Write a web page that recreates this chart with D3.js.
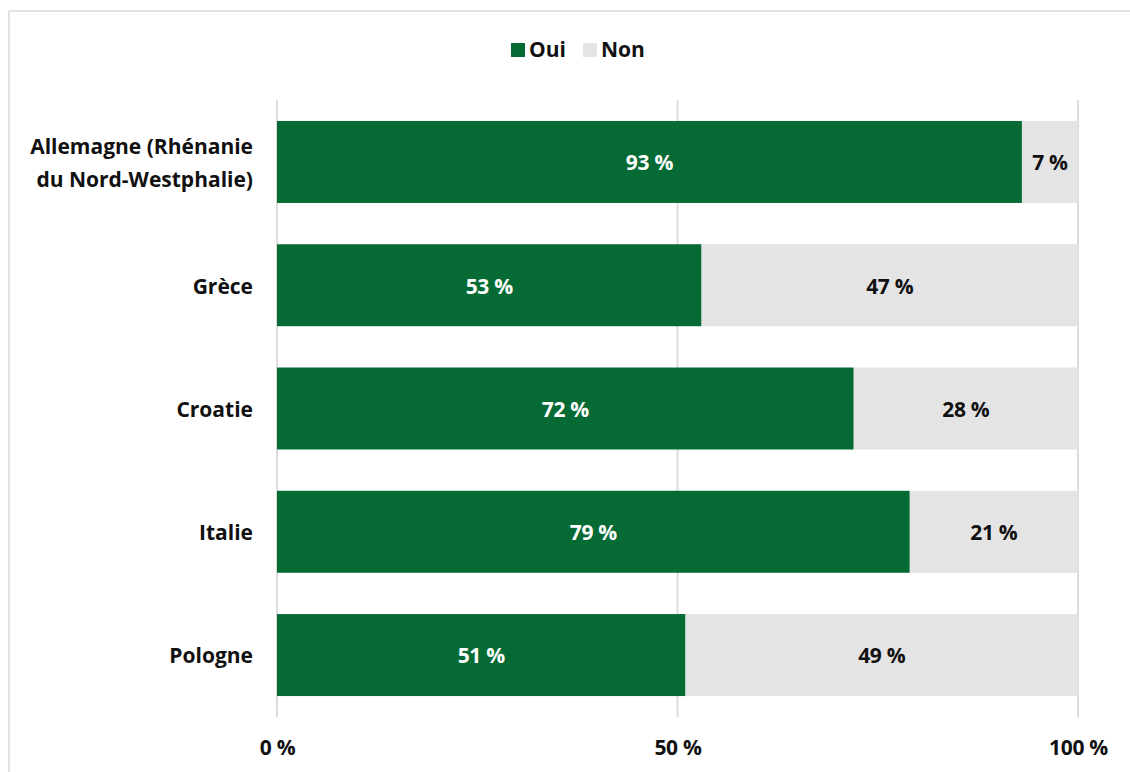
<!DOCTYPE html>
<html>
<head>
<meta charset="utf-8">
<script src="https://cdn.jsdelivr.net/npm/d3@7"></script>
<style>
  html, body { margin: 0; padding: 0; background: #fff; }
  svg text { font-family: "Open Sans", "Noto Sans", sans-serif; font-weight: 700; }
</style>
</head>
<body>
<svg id="chart" width="1130" height="772"></svg>
<script>
// Categories (top to bottom) and answer shares in percent
const countries = [
  ["Allemagne (Rhénanie", "du Nord-Westphalie)"],
  ["Grèce"],
  ["Croatie"],
  ["Italie"],
  ["Pologne"]
];
const oui = [93, 53, 72, 79, 51];
const non = [7, 47, 28, 21, 49];
const seriesNames = ["Oui", "Non"];
const tickValues = [0, 50, 100];

const colors = { Oui: "#066a35", Non: "#e4e4e4" };
const FS = 21;

const svg = d3.select("#chart");
const W = 1130, H = 772;
const margin = { top: 100, right: 52, bottom: 55, left: 277 };

// Outer frame (top and left edges visible)
svg.append("path")
  .attr("d", `M9,${H} V11 H${W}`)
  .attr("fill", "none")
  .attr("stroke", "#e2e2e2")
  .attr("stroke-width", 2);

const keys = countries.map((c, i) => i);
const x = d3.scaleLinear().domain([0, 100]).range([margin.left, W - margin.right]);
const y = d3.scaleBand().domain(keys).range([margin.top, H - margin.bottom]).paddingInner(0.335).paddingOuter(0.17);

// Vertical gridlines
svg.append("g")
  .selectAll("line")
  .data(tickValues)
  .join("line")
  .attr("x1", d => x(d)).attr("x2", d => x(d))
  .attr("y1", margin.top).attr("y2", H - margin.bottom)
  .attr("stroke", "#dcdcdc")
  .attr("stroke-width", 2);

// Stacked bars
const rows = keys.map(i => ({ i, Oui: oui[i], Non: non[i] }));
const stack = d3.stack().keys(seriesNames)(rows);

const layer = svg.append("g").selectAll("g")
  .data(stack)
  .join("g")
  .attr("fill", d => colors[d.key]);

layer.selectAll("rect")
  .data(d => d)
  .join("rect")
  .attr("x", d => x(d[0]))
  .attr("width", d => x(d[1]) - x(d[0]))
  .attr("y", d => y(d.data.i))
  .attr("height", y.bandwidth());

// Value labels
svg.append("g").selectAll("g")
  .data(stack)
  .join("g")
  .selectAll("text")
  .data(d => d.map(v => ({ v, key: d.key })))
  .join("text")
  .attr("x", d => (x(d.v[0]) + x(d.v[1])) / 2)
  .attr("y", d => y(d.v.data.i) + y.bandwidth() / 2 + 1)
  .attr("dy", "0.35em")
  .attr("text-anchor", "middle")
  .attr("font-size", FS)
  .attr("letter-spacing", "-0.3px")
  .attr("fill", d => d.key === "Oui" ? "#ffffff" : "#111111")
  .text(d => `${d.v.data[d.key]} %`);

// Category labels, one text element per line
const catLines = keys.flatMap(i => countries[i].map((ln, k) => ({
  i, ln, off: (k - (countries[i].length - 1) / 2) * 33
})));
svg.append("g").selectAll("text")
  .data(catLines)
  .join("text")
  .attr("text-anchor", "end")
  .attr("x", margin.left - 24)
  .attr("y", d => y(d.i) + y.bandwidth() / 2 + d.off + 1)
  .attr("dy", "0.35em")
  .attr("font-size", FS)
  .attr("fill", "#111")
  .text(d => d.ln);

// X axis tick labels
const xAxis = d3.axisBottom(x).tickValues(tickValues).tickSize(0).tickPadding(0).tickFormat(d => `${d} %`);
const ax = svg.append("g")
  .attr("transform", `translate(0,${H - 17})`)
  .call(xAxis);
ax.select(".domain").remove();
ax.selectAll("text")
  .attr("font-size", FS)
  .attr("letter-spacing", "-0.3px")
  .attr("fill", "#111")
  .attr("dy", 0)
  .style("font-family", "'Open Sans', 'Noto Sans', sans-serif")
  .style("font-weight", 700);

// Legend
const legend = svg.append("g").attr("transform", "translate(511,50)");
const items = [
  { key: "Oui", x: 0 },
  { key: "Non", x: 72 }
];
const li = legend.selectAll("g").data(items).join("g").attr("transform", d => `translate(${d.x},0)`);
li.append("rect").attr("x", 0).attr("y", -7).attr("width", 14).attr("height", 14).attr("fill", d => colors[d.key]);
li.append("text").attr("x", 18).attr("dy", "0.35em").attr("font-size", FS).attr("fill", "#111").text(d => d.key);
</script>
</body>
</html>
